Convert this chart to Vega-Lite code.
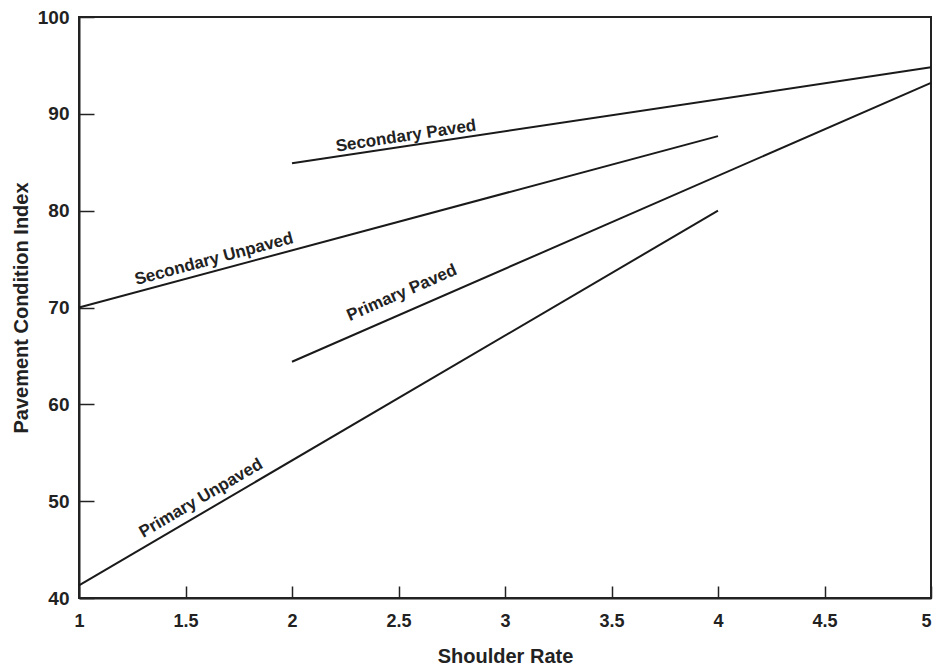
{
  "$schema": "https://vega.github.io/schema/vega-lite/v6.json",
  "width": 852,
  "height": 581,
  "autosize": {"type": "none"},
  "padding": {"left": 79, "top": 17, "right": 3, "bottom": 73},
  "background": "white",
  "config": {
    "view": {"stroke": "#222", "strokeWidth": 2},
    "font": "Liberation Sans"
  },
  "datasets": {
    "lines": [
      {"series": "Secondary Paved", "rate": 2, "pci": 84.9},
      {"series": "Secondary Paved", "rate": 5, "pci": 94.8},
      {"series": "Secondary Unpaved", "rate": 1, "pci": 70},
      {"series": "Secondary Unpaved", "rate": 4, "pci": 87.7},
      {"series": "Primary Paved", "rate": 2, "pci": 64.4},
      {"series": "Primary Paved", "rate": 5, "pci": 93.2},
      {"series": "Primary Unpaved", "rate": 1, "pci": 41.3},
      {"series": "Primary Unpaved", "rate": 4, "pci": 80}
    ],
    "labels": [
      {"series": "Secondary Paved", "rate": 2.535, "pci": 87.7},
      {"series": "Secondary Unpaved", "rate": 1.634, "pci": 75.0},
      {"series": "Primary Paved", "rate": 2.516, "pci": 71.5},
      {"series": "Primary Unpaved", "rate": 1.573, "pci": 50.3}
    ]
  },
  "encoding": {
    "x": {
      "field": "rate", "type": "quantitative",
      "scale": {"domain": [1, 5], "nice": false, "zero": false},
      "axis": {
        "title": "Shoulder Rate", "values": [1, 1.5, 2, 2.5, 3, 3.5, 4, 4.5, 5],
        "format": "", "grid": false, "domain": true, "domainColor": "#222", "domainWidth": 2,
        "tickSize": -12, "tickColor": "#222", "tickWidth": 1.5, "labelPadding": 26,
        "labelFont": "Liberation Sans", "labelFontSize": 18, "labelFontWeight": "bold", "labelColor": "#222",
        "labelFlush": false,
        "labelAlign": {"condition": {"test": "datum.value === 5", "value": "right"}, "value": "center"},
        "titleFont": "Liberation Sans", "titleFontSize": 20, "titleFontWeight": "bold", "titleColor": "#222",
        "titlePadding": 16
      }
    },
    "y": {
      "field": "pci", "type": "quantitative",
      "scale": {"domain": [40, 100], "nice": false, "zero": false},
      "axis": {
        "title": "Pavement Condition Index", "values": [40, 50, 60, 70, 80, 90, 100],
        "grid": false, "domain": true, "domainColor": "#222", "domainWidth": 2,
        "tickSize": -15, "tickColor": "#222", "tickWidth": 1.5, "labelPadding": 25,
        "labelFont": "Liberation Sans", "labelFontSize": 19, "labelFontWeight": "bold", "labelColor": "#222",
        "labelFlush": false,
        "titleFont": "Liberation Sans", "titleFontSize": 20, "titleFontWeight": "bold", "titleColor": "#222",
        "titlePadding": 6
      }
    }
  },
  "layer": [
    {
      "data": {"name": "lines"},
      "mark": {"type": "line", "color": "#1a1a1a", "strokeWidth": 2},
      "encoding": {"detail": {"field": "series"}}
    },
    {
      "data": {"name": "labels"},
      "transform": [{"filter": "datum.series === 'Secondary Paved'"}],
      "mark": {"type": "text", "angle": -8.7, "font": "Liberation Sans", "fontWeight": "bold", "fontSize": 17, "color": "#222"},
      "encoding": {"text": {"field": "series"}}
    },
    {
      "data": {"name": "labels"},
      "transform": [{"filter": "datum.series === 'Secondary Unpaved'"}],
      "mark": {"type": "text", "angle": -15, "font": "Liberation Sans", "fontWeight": "bold", "fontSize": 17, "color": "#222"},
      "encoding": {"text": {"field": "series"}}
    },
    {
      "data": {"name": "labels"},
      "transform": [{"filter": "datum.series === 'Primary Paved'"}],
      "mark": {"type": "text", "angle": -23.6, "font": "Liberation Sans", "fontWeight": "bold", "fontSize": 17, "color": "#222"},
      "encoding": {"text": {"field": "series"}}
    },
    {
      "data": {"name": "labels"},
      "transform": [{"filter": "datum.series === 'Primary Unpaved'"}],
      "mark": {"type": "text", "angle": -30.4, "font": "Liberation Sans", "fontWeight": "bold", "fontSize": 17, "color": "#222"},
      "encoding": {"text": {"field": "series"}}
    }
  ]
}
